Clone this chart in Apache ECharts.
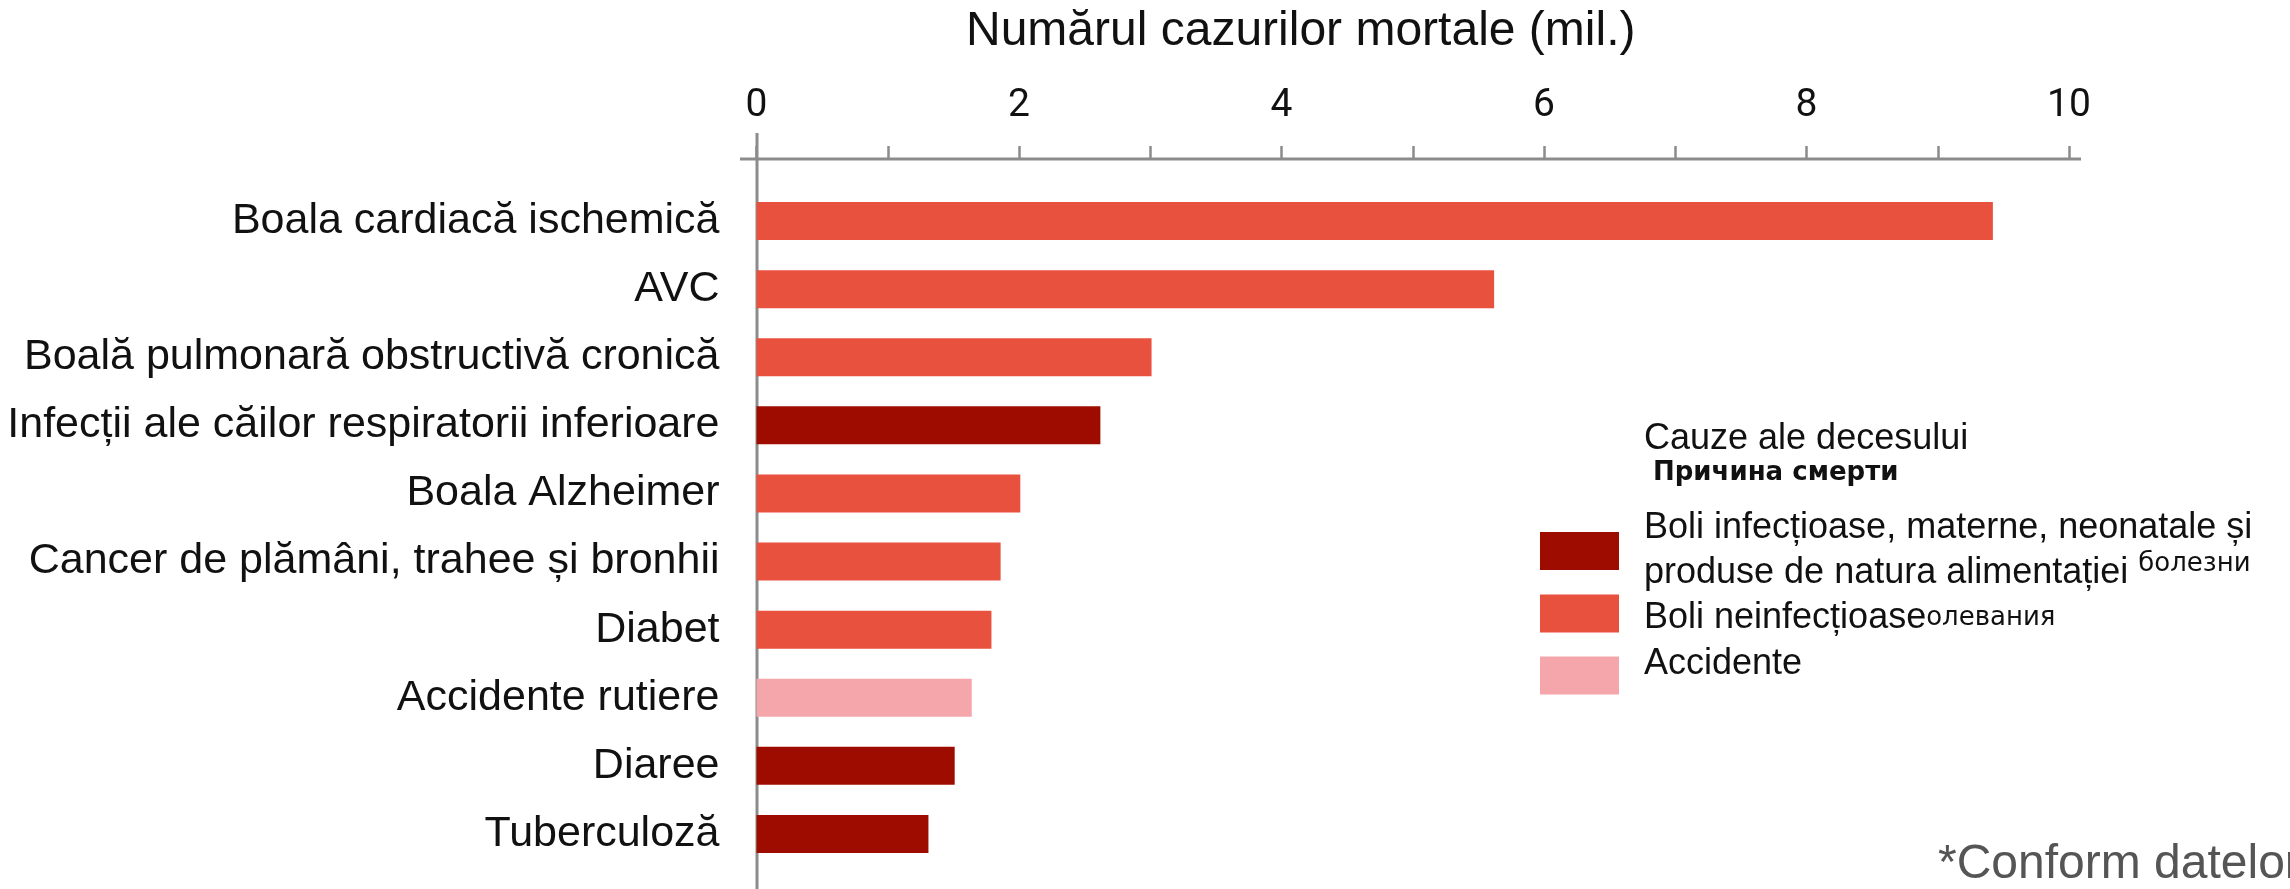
<!DOCTYPE html>
<html>
<head>
<meta charset="utf-8">
<script src="https://cdn.jsdelivr.net/npm/echarts@6/dist/echarts.min.js"></script>
<style>
html,body{margin:0;padding:0;background:#fff;}
#chart{width:2290px;height:889px;}
</style>
</head>
<body>
<div id="chart"></div>
<script>
// ---- data ----
const categories = [
  'Boala cardiacă ischemică',
  'AVC',
  'Boală pulmonară obstructivă cronică',
  'Infecții ale căilor respiratorii inferioare',
  'Boala Alzheimer',
  'Cancer de plămâni, trahee și bronhii',
  'Diabet',
  'Accidente rutiere',
  'Diaree',
  'Tuberculoză'
];
const deaths = [9.42, 5.62, 3.01, 2.62, 2.01, 1.86, 1.79, 1.64, 1.51, 1.31];
const causeGroup = ['nc', 'nc', 'nc', 'inf', 'nc', 'nc', 'nc', 'acc', 'inf', 'inf'];
const groupKeys = ['inf', 'nc', 'acc'];
const groupNames = [
  'Boli infecțioase, materne, neonatale și produse de natura alimentației',
  'Boli neinfecțioase',
  'Accidente'
];
const tickLabels = [0, 2, 4, 6, 8, 10];
const titleText = 'Numărul cazurilor mortale (mil.)';
const legendTitle = 'Cauze ale decesului';
const legendSubtitle = 'Причина смерти';
const footnote = '*Conform datelor';

// ---- styles ----
const groupColors = ['#9E0C00', '#E9513F', '#F4A6AB'];
const axisGray = '#8C8C8C';
const W = 2290, H = 889;
const gridTop = 187, gridBottom = 21, gridLeft = 756.5, gridRight = 221;
const xAxisOffset = 28;

const chart = echarts.init(document.getElementById('chart'), null, {renderer: 'canvas'});

const series = groupKeys.map((k, gi) => ({
  name: groupNames[gi],
  type: 'bar',
  stack: 'all',
  barWidth: 38,
  itemStyle: {color: groupColors[gi]},
  data: deaths.map((v, i) => causeGroup[i] === k ? v : '-'),
  z: 3
}));

const legendBase = {
  orient: 'vertical',
  left: 1540,
  padding: 0,
  itemWidth: 79,
  itemHeight: 38,
  icon: 'rect',
  selectedMode: false,
  textStyle: {
    fontFamily: 'Liberation Sans, Arial, sans-serif',
    fontSize: 36,
    lineHeight: 45,
    color: '#111',
    padding: [0, 0, 0, 20],
    rich: {
      sup1: {fontFamily: 'DejaVu Sans', fontSize: 26, lineHeight: 33, verticalAlign: 'top', color: '#111'},
      sup2: {fontFamily: 'DejaVu Sans', fontSize: 26, lineHeight: 26, color: '#111'}
    }
  }
};

chart.setOption({
  animation: false,
  backgroundColor: '#fff',
  title: [
    {text: titleText, left: 966, top: 8, padding: 0,
     textStyle: {fontFamily: 'Liberation Sans, Arial, sans-serif', fontSize: 48, lineHeight: 48, fontWeight: 'normal', color: '#111'}},
    {text: legendTitle, left: 1644, top: 421, padding: 0,
     textStyle: {fontFamily: 'Liberation Sans, Arial, sans-serif', fontSize: 36, lineHeight: 36, fontWeight: 'normal', color: '#111'}},
    {text: legendSubtitle, left: 1653, top: 460, padding: 0,
     textStyle: {fontFamily: 'DejaVu Sans', fontSize: 26, lineHeight: 26, fontWeight: 'bold', color: '#111'}},
    {text: footnote, left: 1938, top: 841, padding: 0,
     textStyle: {fontFamily: 'Liberation Sans, Arial, sans-serif', fontSize: 48, lineHeight: 48, fontWeight: 'normal', color: '#555'}}
  ],
  legend: [
    Object.assign({}, legendBase, {
      top: 506, data: [groupNames[0]],
      formatter: () => 'Boli infecțioase, materne, neonatale și\nproduse de natura alimentației {sup1|болезни}'
    }),
    Object.assign({}, legendBase, {
      top: 586, data: [groupNames[1]],
      formatter: (n) => n + '{sup2|олевания}',
      textStyle: Object.assign({}, legendBase.textStyle, {padding: [10, 0, 0, 20]})
    }),
    Object.assign({}, legendBase, {
      top: 642, data: [groupNames[2]],
      textStyle: Object.assign({}, legendBase.textStyle, {padding: [0, 0, 22, 20]})
    })
  ],
  grid: {top: gridTop, bottom: gridBottom, left: gridLeft, right: gridRight, containLabel: false},
  xAxis: {
    type: 'value',
    position: 'top',
    offset: xAxisOffset,
    min: 0, max: 10, interval: 1,
    axisLine: {show: false},
    axisTick: {show: true, length: 13, lineStyle: {color: axisGray, width: 2.5}},
    splitLine: {show: false},
    axisLabel: {
      margin: 33,
      fontFamily: 'Roboto, sans-serif',
      fontSize: 39,
      color: '#111',
      formatter: (v) => tickLabels.indexOf(v) >= 0 ? String(v) : ''
    }
  },
  yAxis: {
    type: 'category',
    inverse: true,
    data: categories,
    axisLine: {show: false},
    axisTick: {show: false},
    axisLabel: {
      margin: 37,
      fontFamily: 'Liberation Sans, Arial, sans-serif',
      fontSize: 43,
      color: '#111',
      padding: [0, 0, 12, 0]
    }
  },
  series: series
});

// axis lines (extend beyond the plot area as in the reference)
const x0 = chart.convertToPixel({xAxisIndex: 0}, 0);
const x10 = chart.convertToPixel({xAxisIndex: 0}, 10);
const axisY = gridTop - xAxisOffset;
chart.setOption({
  graphic: [
    {type: 'line', z: 1, shape: {x1: x0 - 16.5, y1: axisY, x2: x10 + 12, y2: axisY},
     style: {stroke: axisGray, lineWidth: 3}},
    {type: 'line', z: 1, shape: {x1: x0 + 0.5, y1: axisY - 26, x2: x0 + 0.5, y2: H},
     style: {stroke: axisGray, lineWidth: 3}}
  ]
});
</script>
</body>
</html>
